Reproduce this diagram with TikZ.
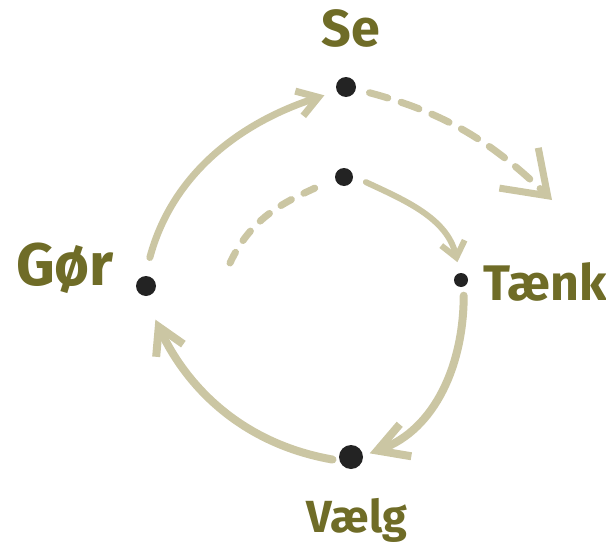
\documentclass[tikz,border=0pt]{standalone}
\usepackage{fontspec}
\setmainfont{Fira Sans}
\usetikzlibrary{arrows.meta}
\definecolor{labelc}{HTML}{6F6C27}
\definecolor{flowc}{HTML}{CBC6A3}
\definecolor{dotc}{HTML}{232323}
\begin{document}
\begin{tikzpicture}[x=1pt, y=1pt,
  lbl/.style={text=labelc, anchor=base, inner sep=0pt},
  blob/.style={circle, fill=dotc, inner sep=0pt, minimum size=#1},
  flow/.style={draw=flowc, line width=7pt, line cap=round, line join=round},
  dashflow/.style={flow, dash pattern=on 19pt off 14pt}]
\useasboundingbox (0,0) rectangle (606,-557);
% points on the loop
\node[blob=20pt] (se) at (346,-87) {};
\node[blob=18pt] (inner) at (344,-177) {};
\node[blob=20pt] (gor) at (146,-286) {};
\node[blob=14pt] (taenk) at (461,-280) {};
\node[blob=24pt] (vaelg) at (351,-457) {};
\coordinate (outer) at (552,-200);
\coordinate (back) at (230,-263);
% labels
\node[lbl, font=\bfseries\fontsize{52}{52}\selectfont] (seL) at (351,-46) {Se};
\node[lbl, font=\bfseries\fontsize{60}{60}\selectfont] (gorL) at (65,-285) {Gør};
\node[lbl, font=\bfseries\fontsize{50}{50}\selectfont] (taenkL) at (545,-300) {Tænk};
\node[lbl, font=\bfseries\fontsize{45}{45}\selectfont] (vaelgL) at (357,-532) {Vælg};
% outer loop
\draw[flow, shorten <=19pt, shorten >=13pt, -{Straight Barb[length=20pt,width=26pt]}]
  (gor.96) to[out=75,in=198] (se.205);
\draw[flow, line width=8pt, shorten <=9pt, shorten >=7pt, -{Straight Barb[length=30pt,width=34pt]}]
  (taenk.-68) to[out=-90,in=20] (vaelg.6);
\draw[flow, line width=8pt, shorten <=7pt, shorten >=26pt, -{Straight Barb[length=26pt,width=30pt]}]
  (vaelg.198) to[out=170,in=-65] (gor.261);
\draw[dashflow, shorten <=14pt, -{Straight Barb[length=40pt,width=56pt]}]
  (se.-12) to[out=-15,in=136] (outer);
% inner loop
\draw[flow, line width=6pt, shorten <=14pt, shorten >=11pt, -{Straight Barb[length=15pt,width=24pt]}]
  (inner.5) to[out=-25,in=103] (taenk.99);
\draw[dashflow, dash pattern=on 12pt off 14pt, shorten >=17pt]
  (back) to[out=65,in=205] (inner.191);
\end{tikzpicture}
\end{document}
